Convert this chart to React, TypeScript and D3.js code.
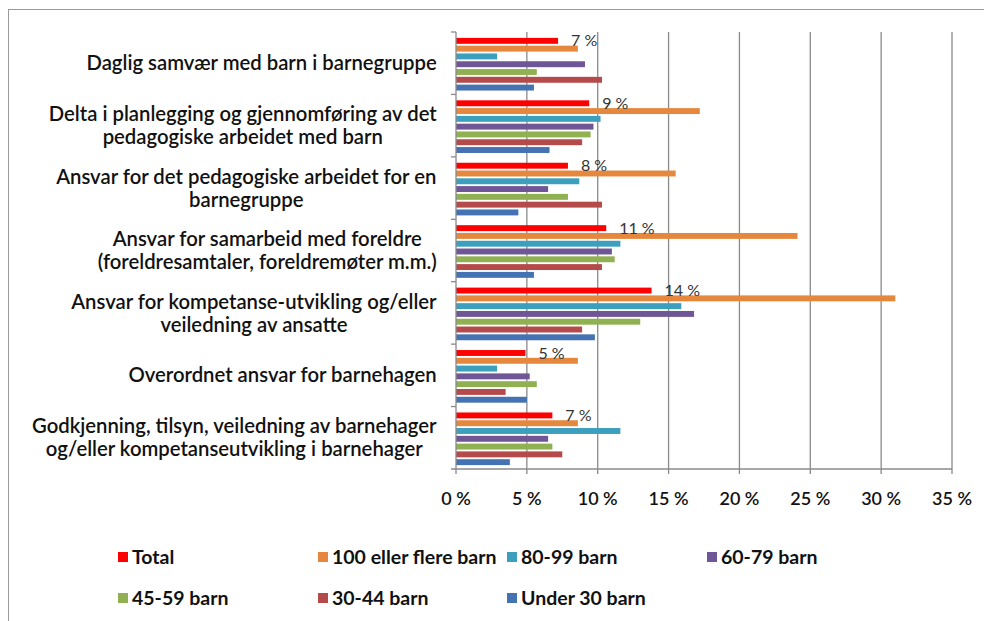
import React from 'react'
import { scaleLinear, scaleBand } from 'd3'

const categories = [
  'Daglig samvær med barn i barnegruppe',
  'Delta i planlegging og gjennomføring av det\npedagogiske arbeidet med barn',
  'Ansvar for det pedagogiske arbeidet for en\nbarnegruppe',
  'Ansvar for samarbeid med foreldre\n(foreldresamtaler, foreldremøter m.m.)',
  'Ansvar for kompetanse-utvikling og/eller\nveiledning av ansatte',
  'Overordnet ansvar for barnehagen',
  'Godkjenning, tilsyn, veiledning av barnehager\nog/eller kompetanseutvikling i barnehager',
]

const seriesNames = ['Total', '100 eller flere barn', '80-99 barn', '60-79 barn', '45-59 barn', '30-44 barn', 'Under 30 barn']
const seriesColors = ['#ff0000', '#e5883d', '#3c9fbd', '#6f5696', '#8fb152', '#b54a4a', '#4472b2']

const total = [7.2, 9.4, 7.9, 10.6, 13.8, 4.9, 6.8]
const barn100 = [8.6, 17.2, 15.5, 24.1, 31.0, 8.6, 8.6]
const barn80 = [2.9, 10.2, 8.7, 11.6, 15.9, 2.9, 11.6]
const barn60 = [9.1, 9.7, 6.5, 11.0, 16.8, 5.2, 6.5]
const barn45 = [5.7, 9.5, 7.9, 11.2, 13.0, 5.7, 6.8]
const barn30 = [10.3, 8.9, 10.3, 10.3, 8.9, 3.5, 7.5]
const under30 = [5.5, 6.6, 4.4, 5.5, 9.8, 5.0, 3.8]

const seriesValues = [total, barn100, barn80, barn60, barn45, barn30, under30]
const xTicks = [0, 5, 10, 15, 20, 25, 30, 35]

const font = 'Lato, "Open Sans", sans-serif'

let ctx: CanvasRenderingContext2D | null = null
const measure = (s: string, size: number, weight: number) => {
  if (!ctx) ctx = document.createElement('canvas').getContext('2d')
  if (!ctx) return s.length * size * 0.5
  ctx.font = `${weight} ${size}px Lato`
  return ctx.measureText(s).width
}

const App = () => {
  const width = 984
  const height = 621
  const left = 456
  const right = 952
  const top = 32
  const bottom = 469
  const labelRight = 437
  const labelSize = 20.3
  const labelWeight = 600

  const x = scaleLinear().domain([0, 35]).range([left, right])
  const y = scaleBand().domain(categories).range([top, bottom])
  const inner = scaleBand()
    .domain(seriesNames)
    .range([5.5, y.bandwidth() - 3.5])
    .paddingInner(0.24)
    .paddingOuter(0.05)

  const legendCols = [118, 318, 507, 707]
  const legendRows = [557, 598]

  return (
    <svg width={width} height={height} style={{ position: 'absolute', left: 0, top: 0, background: '#fff' }}>
      <rect x={8.5} y={9.5} width={1000} height={620} fill="#fff" stroke="#9a9a9a" />

      {/* gridlines */}
      {xTicks.slice(1).map((t) => (
        <line key={t} x1={x(t)} x2={x(t)} y1={top} y2={bottom} stroke="#8a8a8a" strokeWidth={1.3} />
      ))}

      {/* bars */}
      {categories.map((c, ci) => (
        <g key={c} transform={`translate(0, ${y(c)})`}>
          {seriesNames.map((s, si) => (
            <rect
              key={s}
              x={x(0)}
              y={inner(s)}
              width={x(seriesValues[si][ci]) - x(0)}
              height={inner.bandwidth()}
              fill={seriesColors[si]}
            />
          ))}
          <text
            x={x(total[ci]) + 13}
            y={(inner('Total') ?? 0) + inner.bandwidth() / 2}
            dy="0.35em"
            fontFamily={font}
            fontSize={16}
            fill="#333"
          >
            {`${Math.round(total[ci])} %`}
          </text>
        </g>
      ))}

      {/* axes */}
      <line x1={left} x2={left} y1={top} y2={bottom} stroke="#8a8a8a" strokeWidth={1.3} />
      <line x1={left - 5} x2={right} y1={bottom} y2={bottom} stroke="#8a8a8a" strokeWidth={1.3} />
      {categories.map((c) => (
        <line key={c} x1={left - 5} x2={left} y1={y(c)} y2={y(c)} stroke="#8a8a8a" strokeWidth={1.3} />
      ))}
      {xTicks.map((t) => (
        <g key={t}>
          <line x1={x(t)} x2={x(t)} y1={bottom} y2={bottom + 5} stroke="#8a8a8a" strokeWidth={1.3} />
          <text x={x(t)} y={bottom + 36} textAnchor="middle" fontFamily={font} fontSize={18} fontWeight={600} fill="#111">
            {`${t} %`}
          </text>
        </g>
      ))}

      {/* category labels */}
      {categories.map((c) => {
        const lines = c.split('\n')
        const w = Math.max(...lines.map((l) => measure(l, labelSize, labelWeight)))
        const cx = labelRight - w / 2
        const cy = (y(c) ?? 0) + y.bandwidth() / 2
        const lh = 23
        return (
          <text key={c} textAnchor="middle" fontFamily={font} fontSize={labelSize} fontWeight={labelWeight} fill="#111">
            {lines.map((l, li) => (
              <tspan key={li} x={cx} y={cy + (li - (lines.length - 1) / 2) * lh} dy="0.35em">
                {l}
              </tspan>
            ))}
          </text>
        )
      })}

      {/* legend */}
      {seriesNames.map((s, i) => {
        const lx = legendCols[i % 4]
        const ly = legendRows[Math.floor(i / 4)]
        return (
          <g key={s} transform={`translate(${lx}, ${ly})`}>
            <rect x={0} y={-5} width={10} height={10} fill={seriesColors[i]} />
            <text x={14} y={0} dy="0.35em" fontFamily={font} fontSize={19.5} fontWeight={700} fill="#111">
              {s}
            </text>
          </g>
        )
      })}
    </svg>
  )
}

export default App
